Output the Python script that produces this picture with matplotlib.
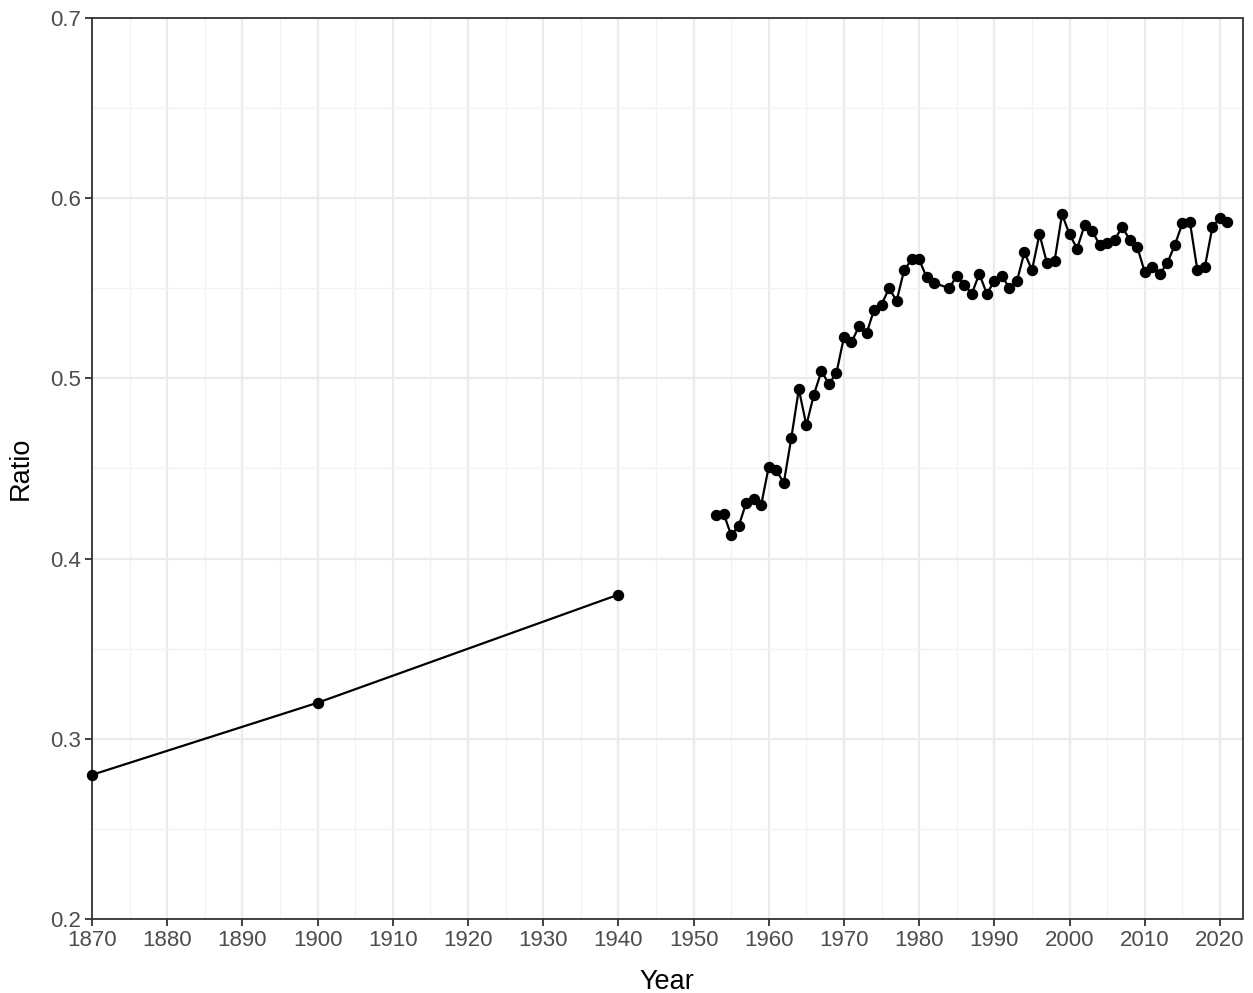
import matplotlib
matplotlib.use("Agg")
import matplotlib.pyplot as plt
import numpy as np

plt.rcParams['font.family'] = ['Liberation Sans', 'DejaVu Sans']

early_years = [1870, 1900, 1940]
early_ratio = [0.280, 0.320, 0.380]

late_years = [1953, 1954, 1955, 1956, 1957, 1958, 1959, 1960, 1961, 1962,
              1963, 1964, 1965, 1966, 1967, 1968, 1969, 1970, 1971, 1972,
              1973, 1974, 1975, 1976, 1977, 1978, 1979, 1980, 1981, 1982,
              1984, 1985, 1986, 1987, 1988, 1989, 1990, 1991, 1992, 1993,
              1994, 1995, 1996, 1997, 1998, 1999, 2000, 2001, 2002, 2003,
              2004, 2005, 2006, 2007, 2008, 2009, 2010, 2011, 2012, 2013,
              2014, 2015, 2016, 2017, 2018, 2019, 2020, 2021]
late_ratio = [0.424, 0.425, 0.413, 0.418, 0.431, 0.433, 0.430, 0.451, 0.449, 0.442,
              0.467, 0.494, 0.474, 0.491, 0.504, 0.497, 0.503, 0.523, 0.520, 0.529,
              0.525, 0.538, 0.541, 0.550, 0.543, 0.560, 0.566, 0.566, 0.556, 0.553,
              0.550, 0.557, 0.552, 0.547, 0.558, 0.547, 0.554, 0.557, 0.550, 0.554,
              0.570, 0.560, 0.580, 0.564, 0.565, 0.591, 0.580, 0.572, 0.585, 0.582,
              0.574, 0.575, 0.577, 0.584, 0.577, 0.573, 0.559, 0.562, 0.558, 0.564,
              0.574, 0.586, 0.587, 0.560, 0.562, 0.584, 0.589, 0.587]

x_ticks = [1870, 1880, 1890, 1900, 1910, 1920, 1930, 1940, 1950, 1960, 1970,
           1980, 1990, 2000, 2010, 2020]
y_ticks = [0.2, 0.3, 0.4, 0.5, 0.6, 0.7]

fig = plt.figure(figsize=(12.53, 9.93), dpi=100)
ax = fig.add_axes([92/1253, 1-919/993, (1242.5-92)/1253, (919-18)/993])

ax.set_xlim(1870, 2023)
ax.set_ylim(0.2, 0.7)
ax.set_xticks(x_ticks)
ax.set_xticklabels([str(t) for t in x_ticks])
ax.set_yticks(y_ticks)
ax.set_yticklabels([f"{t:.1f}" for t in y_ticks])
ax.set_xticks(np.arange(1875, 2023, 10), minor=True)
ax.set_yticks([0.25, 0.35, 0.45, 0.55, 0.65], minor=True)

ax.grid(which='major', color='#EBEBEB', linewidth=1.6)
ax.grid(which='minor', color='#F3F3F3', linewidth=1.0)
ax.set_axisbelow(True)

for s in ax.spines.values():
    s.set_color('#333333')
    s.set_linewidth(1.3)

ax.tick_params(which='major', length=5, width=1.3, color='#333333',
               labelsize=16, labelcolor='#4D4D4D', pad=3)
ax.tick_params(which='minor', length=0)

for xs, ys in [(early_years, early_ratio), (late_years, late_ratio)]:
    ax.plot(xs, ys, color='black', linewidth=1.6, zorder=3, clip_on=False)
    ax.plot(xs, ys, 'o', color='black', markersize=7.2, zorder=4, clip_on=False)

ax.set_xlabel('Year', fontsize=19.5, color='black', labelpad=13)
ax.set_ylabel('Ratio', fontsize=19.5, color='black', labelpad=12)

fig.savefig('out.png', dpi=100)
